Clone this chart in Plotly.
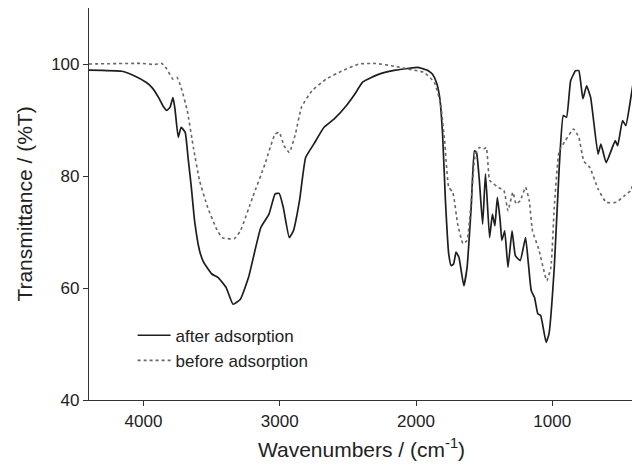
import plotly.graph_objects as go

# "after adsorption" (solid)
after_x = [4400, 4159, 4069, 3979, 3934, 3889, 3859, 3829, 3805, 3784, 3769, 3745, 3724, 3694,
           3673, 3649, 3625, 3589, 3559, 3499, 3454, 3394, 3343, 3289, 3229, 3139, 3079, 3034,
           3004, 2974, 2930, 2900, 2855, 2810, 2750, 2675, 2600, 2510, 2450, 2390, 2270, 2150,
           2060, 1985, 1910, 1880, 1850, 1826, 1805, 1784, 1760, 1742, 1724, 1706, 1685, 1649,
           1625, 1595, 1571, 1556, 1535, 1511, 1490, 1460, 1439, 1421, 1403, 1382, 1370, 1349,
           1325, 1295, 1271, 1235, 1196, 1175, 1154, 1130, 1106, 1085, 1045, 1024, 985, 949,
           919, 895, 865, 829, 805, 775, 748, 718, 664, 643, 604, 538, 520, 484, 460, 430, 400]
after_y = [98.9, 98.7, 97.9, 96.7, 95.7, 94.0, 92.6, 91.7, 92.3, 94.0, 92.0, 86.9, 88.7, 87.8,
           83.3, 78.0, 72.0, 66.7, 64.6, 62.5, 61.9, 60.1, 57.1, 58.0, 61.9, 70.8, 73.2, 76.8,
           76.9, 74.4, 69.0, 70.2, 75.6, 83.3, 85.7, 88.7, 90.2, 92.6, 94.6, 96.8, 98.2, 98.9,
           99.2, 99.4, 98.8, 98.2, 96.7, 94.0, 87.5, 75.6, 66.1, 64.0, 64.3, 66.4, 65.5, 60.4,
           63.7, 74.4, 84.5, 84.2, 79.2, 71.4, 80.4, 69.0, 73.2, 71.1, 76.2, 72.0, 68.5, 70.2,
           63.7, 70.2, 65.8, 64.9, 69.0, 64.3, 59.5, 58.3, 55.4, 55.1, 50.3, 51.8, 63.7, 81.5,
           90.8, 90.5, 97.0, 98.8, 98.8, 93.8, 96.1, 94.0, 83.9, 85.7, 82.4, 86.3, 85.4, 89.9,
           89.0, 92.9, 97.6]

# "before adsorption" (dotted)
before_x = [4400, 4009, 3919, 3865, 3829, 3784, 3754, 3724, 3679, 3634, 3589, 3529, 3469, 3424,
            3334, 3289, 3199, 3109, 3034, 3004, 2968, 2930, 2885, 2840, 2765, 2660, 2540, 2420,
            2300, 2180, 2060, 1940, 1865, 1820, 1790, 1760, 1730, 1694, 1655, 1625, 1595, 1565,
            1535, 1505, 1484, 1460, 1430, 1400, 1355, 1325, 1289, 1265, 1235, 1196, 1169, 1145,
            1100, 1040, 1010, 985, 949, 904, 844, 805, 769, 724, 664, 604, 529, 469, 424, 400]
before_y = [100.0, 100.1, 99.9, 100.1, 99.1, 97.3, 97.6, 95.8, 91.7, 85.1, 79.2, 74.4, 70.8, 69.0,
            68.8, 70.2, 76.2, 82.1, 87.5, 87.8, 85.4, 84.2, 87.5, 92.3, 95.2, 97.3, 98.8, 100.0,
            100.1, 99.7, 99.1, 98.5, 96.7, 92.9, 86.3, 78.0, 77.1, 71.4, 67.9, 68.5, 75.6, 83.9,
            85.1, 84.8, 85.1, 79.2, 78.6, 78.0, 77.4, 73.8, 77.1, 75.0, 75.6, 78.0, 75.6, 70.2,
            67.0, 61.3, 63.7, 74.4, 84.5, 86.3, 88.4, 86.9, 82.7, 81.5, 77.7, 75.3, 75.3, 76.5,
            77.4, 79.2]

x_ticks = [4000, 3000, 2000, 1000]
y_ticks = [40, 60, 80, 100]

fig = go.Figure()
fig.add_trace(go.Scatter(x=after_x, y=after_y, mode="lines", name="after adsorption",
                         line=dict(color="#1e1e1e", width=1.7, shape="spline", smoothing=0.4)))
fig.add_trace(go.Scatter(x=before_x, y=before_y, mode="lines", name="before adsorption",
                         line=dict(color="#666666", width=1.6, dash="dot", shape="spline", smoothing=0.4)))

font_family = "Liberation Sans, Arial, sans-serif"
fig.update_layout(
    width=632, height=458,
    margin=dict(l=81, r=6, t=0, b=66),
    paper_bgcolor="white", plot_bgcolor="white",
    font=dict(family=font_family, color="#222222", size=17),
    showlegend=True,
    legend=dict(x=0.08, y=0.21, xanchor="left", yanchor="top",
                bgcolor="rgba(0,0,0,0)", font=dict(size=17), tracegroupgap=0,
                itemwidth=33),
)
fig.update_xaxes(range=[4400, 400], tickvals=x_ticks, ticktext=[str(v) for v in x_ticks],
                 ticks="outside", ticklen=5, tickcolor="#333", showgrid=False, zeroline=False,
                 showline=True, linecolor="#333", linewidth=1.2, mirror=True,
                 tickfont=dict(size=17),
                 title=dict(text="Wavenumbers / (cm<sup>-1</sup>)", font=dict(size=21), standoff=12))
fig.update_yaxes(range=[40, 110], tickvals=y_ticks, ticktext=[str(v) for v in y_ticks],
                 ticks="outside", ticklen=5, tickcolor="#333", showgrid=False, zeroline=False,
                 showline=True, linecolor="#333", linewidth=1.2, mirror=True,
                 tickfont=dict(size=17),
                 title=dict(text="Transmittance / (%T)", font=dict(size=21), standoff=12))

fig.write_html("out.html")
